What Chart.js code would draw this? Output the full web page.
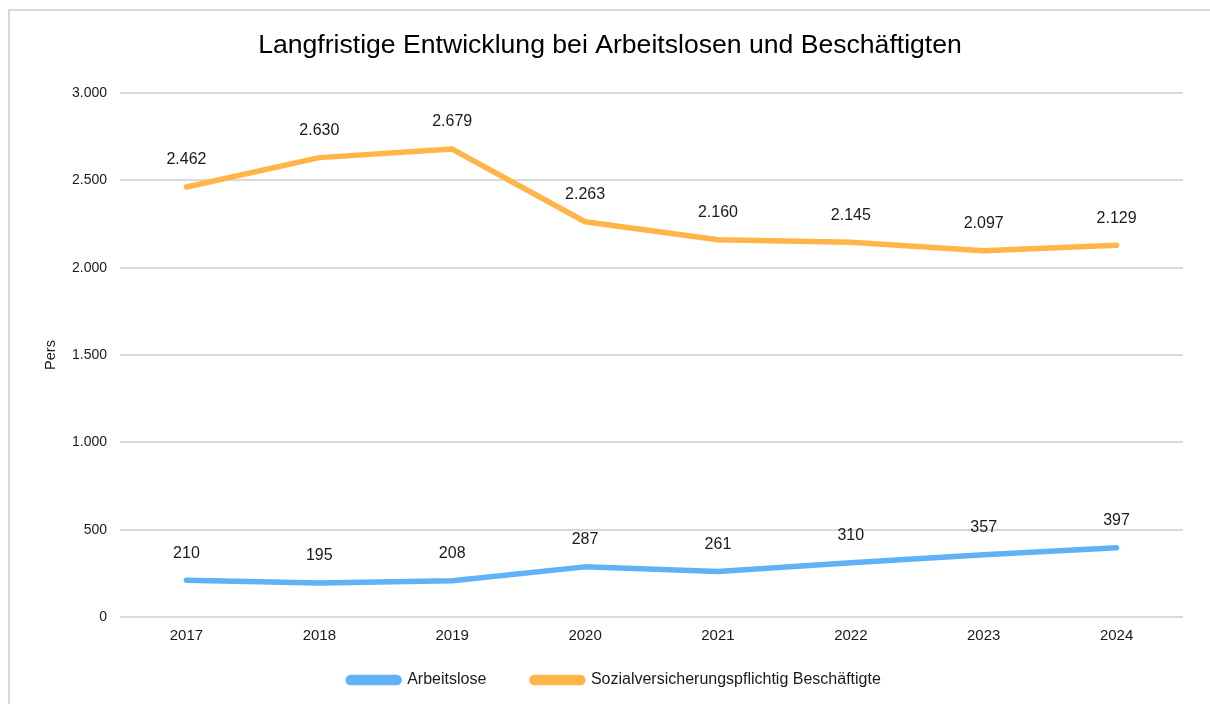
<!DOCTYPE html>
<html>
<head>
<meta charset="utf-8">
<script src="https://cdn.jsdelivr.net/npm/chart.js@4/dist/chart.umd.min.js"></script>
<style>
html,body{margin:0;padding:0;background:#fff;width:1210px;height:704px;overflow:hidden;}
#frame{position:absolute;left:8px;top:9px;width:1220px;height:720px;border-left:2px solid #d9d9d9;border-top:2px solid #d9d9d9;}
#wrap{position:absolute;left:0;top:0;width:1210px;height:704px;}
</style>
</head>
<body>
<div id="frame"></div>
<div id="wrap"><canvas id="c" width="1210" height="704"></canvas></div>
<script>
const categories = ['2017','2018','2019','2020','2021','2022','2023','2024'];
const arbeitslose = [210,195,208,287,261,310,357,397];
const beschaeftigte = [2462,2630,2679,2263,2160,2145,2097,2129];
const seriesNames = ['Arbeitslose','Sozialversicherungspflichtig Beschäftigte'];
const titleText = 'Langfristige Entwicklung bei Arbeitslosen und Beschäftigten';
const yTitle = 'Pers';

const FONT = '"Liberation Sans", Arial, sans-serif';
const TXT = '#1a1a1a';
function fmt(v){ return String(Math.round(v)).replace(/\B(?=(\d{3})+(?!\d))/g,'.'); }

const labelPlugin = {
  id:'valueLabels',
  afterDatasetsDraw(chart){
    const ctx = chart.ctx;
    ctx.save();
    ctx.font = '16px ' + FONT;
    ctx.fillStyle = TXT;
    ctx.textAlign = 'center';
    ctx.textBaseline = 'middle';
    chart.data.datasets.forEach((ds,i)=>{
      const meta = chart.getDatasetMeta(i);
      meta.data.forEach((pt,j)=>{
        ctx.fillText(fmt(ds.data[j]), pt.x, pt.y - 27);
      });
    });
    ctx.restore();
  }
};

const titlePlugin = {
  id:'centerTitle',
  afterDraw(chart){
    const ctx = chart.ctx;
    ctx.save();
    ctx.font = '26.6px ' + FONT;
    ctx.fillStyle = '#000';
    ctx.textAlign = 'center';
    ctx.textBaseline = 'middle';
    ctx.fillText(titleText, 610, 46);
    ctx.restore();
  }
};

new Chart(document.getElementById('c'), {
  type:'line',
  data:{
    labels: categories,
    datasets:[
      {label: seriesNames[0], data: arbeitslose, borderColor:'#5FB2F5', backgroundColor:'#5FB2F5', borderWidth:5.5, pointRadius:0, tension:0, borderCapStyle:'round', borderJoinStyle:'round'},
      {label: seriesNames[1], data: beschaeftigte, borderColor:'#FFB547', backgroundColor:'#FFB547', borderWidth:5.5, pointRadius:0, tension:0, borderCapStyle:'round', borderJoinStyle:'round'}
    ]
  },
  options:{
    responsive:false,
    animation:false,
    devicePixelRatio:1,
    layout:{padding:{left:46,right:27,top:93,bottom:6}},
    plugins:{
      title:{display:false},
      legend:{position:'bottom',labels:{
        color:TXT,font:{family:FONT,size:16},boxWidth:51,boxHeight:5,useBorderRadius:true,borderRadius:2.5,padding:10,
        generateLabels(chart){
          const items = Chart.defaults.plugins.legend.labels.generateLabels(chart);
          items.forEach((it,i)=>{ if(i < items.length-1) it.text = it.text + '        '; });
          return items;
        }
      }},
      tooltip:{enabled:false}
    },
    scales:{
      x:{
        offset:true,
        afterFit(scale){ scale.height = 45; },
        grid:{display:false,drawTicks:false},
        border:{display:false},
        ticks:{color:TXT,font:{family:FONT,size:15},padding:10,maxRotation:0}
      },
      y:{
        min:0,max:3000,
        afterFit(scale){ scale.width = 74; },
        grid:{color:'#d9d9d9',lineWidth:2,drawTicks:false},
        border:{display:false},
        ticks:{stepSize:500,color:TXT,font:{family:FONT,size:14},padding:13,callback:(v)=>fmt(v)},
        title:{display:true,text:yTitle,color:TXT,font:{family:FONT,size:14.5},padding:{top:-4,bottom:0}}
      }
    }
  },
  plugins:[labelPlugin,titlePlugin]
});
</script>
</body>
</html>
